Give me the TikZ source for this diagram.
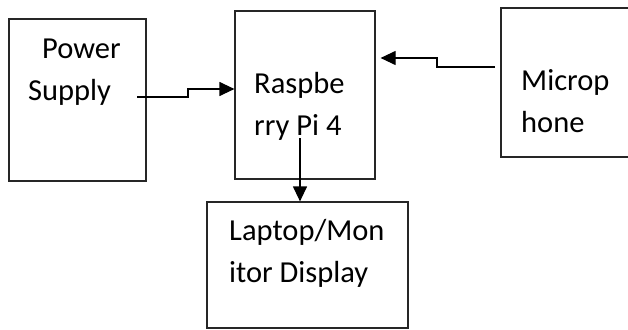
\documentclass[tikz,border=0pt]{standalone}
\usepackage{fontspec}
\setmainfont{Carlito}
\usetikzlibrary{arrows.meta}
\begin{document}
\begin{tikzpicture}[x=1pt,y=-1pt,
  box/.style={draw=black!85, line width=1.2pt, minimum width=#1, inner sep=0pt},
  lbl/.style={anchor=base west, inner sep=0pt, align=left, font=\fontsize{30.5}{42}\selectfont},
  arr/.style={draw=black, line width=1.2pt, -{Triangle[length=15pt,width=14pt]}}]
\useasboundingbox (0,0) rectangle (628,329);
\node[box=137pt, minimum height=162pt] (ps) at (77.5,100) {};
\node[box=140pt, minimum height=168pt] (rpi) at (305,95) {};
\node[box=139pt, minimum height=149pt] (mic) at (570.5,82.5) {};
\node[box=201pt, minimum height=126pt] (lap) at (307.5,265) {};
\node[lbl] (pst) at (28,100) {\hspace{14pt}Power\\Supply};
\node[lbl] (rpit) at (254,135) {Raspbe\\rry Pi 4};
\node[lbl] (mict) at (521,132) {Microp\\hone};
\node[lbl] (lapt) at (229,282) {Laptop/Mon\\itor Display};
\coordinate (pstart) at (137,97);
\coordinate (mstart) at (495,67);
\coordinate (dstart) at (300,138);
\draw[arr] (pstart) -- ++(51,0) |- (rpi.west |- 0,89);
\draw[arr] (mstart) -- ++(-58,0) |- ([xshift=5pt]rpi.east |- 0,58);
\draw[arr] (dstart) -- (lap.north -| dstart);
\end{tikzpicture}
\end{document}
